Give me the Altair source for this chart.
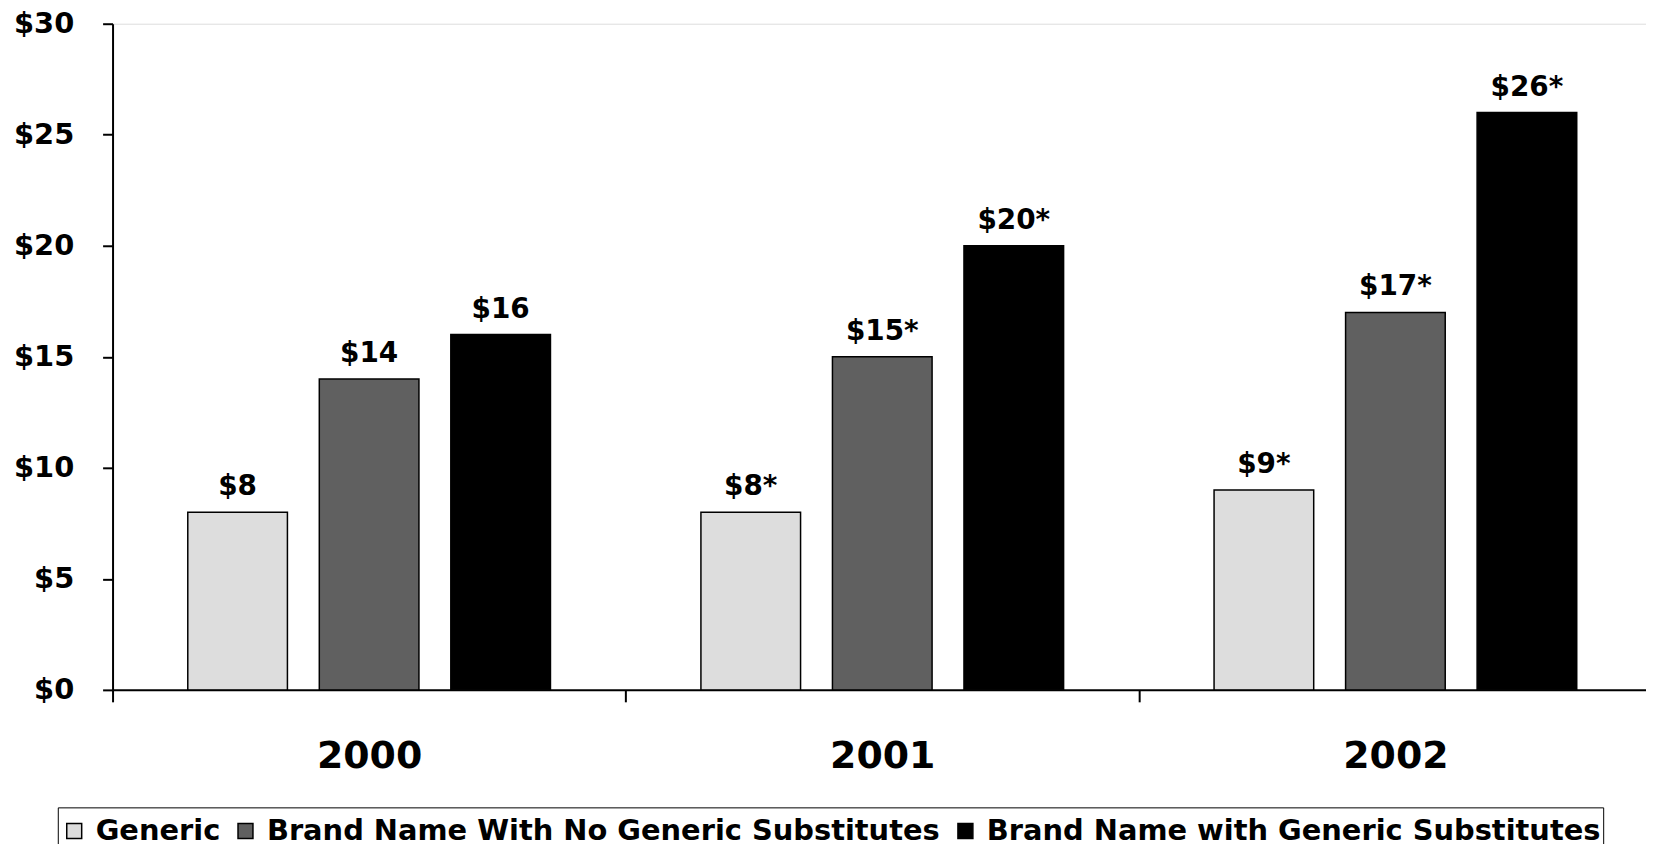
import altair as alt
import pandas as pd

years = ["2000", "2001", "2002"]
series = ["Generic", "Brand Name With No Generic Substitutes", "Brand Name with Generic Substitutes"]
generic = [8, 8, 9]
brand_no_sub = [14, 15, 17]
brand_sub = [16, 20, 26]
label_generic = ["$8", "$8*", "$9*"]
label_brand_no_sub = ["$14", "$15*", "$17*"]
label_brand_sub = ["$16", "$20*", "$26*"]
colors = ["#DDDDDD", "#606060", "#000000"]
y_ticks = [0, 5, 10, 15, 20, 25, 30]

rows = []
for vals, labs, s in [(generic, label_generic, series[0]),
                      (brand_no_sub, label_brand_no_sub, series[1]),
                      (brand_sub, label_brand_sub, series[2])]:
    for y, v, l in zip(years, vals, labs):
        rows.append({"year": y, "series": s, "value": v, "label": l})
df = pd.DataFrame(rows)

FONT = "DejaVu Sans"

x_enc = alt.X("year:N", sort=years, title=None,
              scale=alt.Scale(paddingInner=0, paddingOuter=0),
              axis=alt.Axis(labelAngle=0, labelFont=FONT, labelFontSize=38,
                            labelFontWeight="bold", labelColor="black",
                            tickBand="extent", tickSize=12, tickWidth=2,
                            tickColor="black", domainColor="black",
                            domainWidth=2, labelPadding=36))
xo_enc = alt.XOffset("series:N", sort=series,
                     scale=alt.Scale(paddingInner=0.2424, paddingOuter=0.572))
y_enc = alt.Y("value:Q", title=None,
              scale=alt.Scale(domain=[0, 30], nice=False),
              axis=alt.Axis(values=y_ticks, labelExpr="'$' + datum.value",
                            grid=False, tickSize=10, tickWidth=2,
                            tickColor="black", domainColor="black",
                            domainWidth=2, labelFont=FONT, labelFontSize=29,
                            labelFontWeight="bold", labelColor="black",
                            labelPadding=29))

bars = alt.Chart(df).mark_bar(stroke="black", strokeWidth=1.5).encode(
    x=x_enc,
    xOffset=xo_enc,
    y=y_enc,
    color=alt.Color("series:N", sort=series,
                    scale=alt.Scale(domain=series, range=colors),
                    legend=alt.Legend(title=" ", titleFontSize=1,
                                      titlePadding=6,
                                      orient="none",
                                      legendX=-55, legendY=787,
                                      direction="horizontal",
                                      symbolType="square", symbolSize=225,
                                      symbolStrokeColor="black",
                                      symbolStrokeWidth=1.5,
                                      symbolOpacity=1,
                                      labelFont=FONT, labelFontSize=29,
                                      labelFontWeight="bold",
                                      labelColor="black", labelOffset=7,
                                      columnPadding=10, padding=2,
                                      strokeColor="black",
                                      labelLimit=1000)),
)

texts = alt.Chart(df).mark_text(font=FONT, fontSize=28, fontWeight="bold",
                                color="black", baseline="alphabetic",
                                dy=-17).encode(
    x=alt.X("year:N", sort=years),
    xOffset=alt.XOffset("series:N", sort=series),
    y=alt.Y("value:Q"),
    text="label:N",
)

chart = alt.layer(bars, texts).properties(
    width=1546, height=669,
    autosize=alt.AutoSizeParams(type="none"),
    padding={"left": 105, "top": 14, "right": -6, "bottom": 153},
).configure_view(stroke=None).configure(background="white")

chart.save("out.html", embed_options={"renderer": "svg", "actions": False})
